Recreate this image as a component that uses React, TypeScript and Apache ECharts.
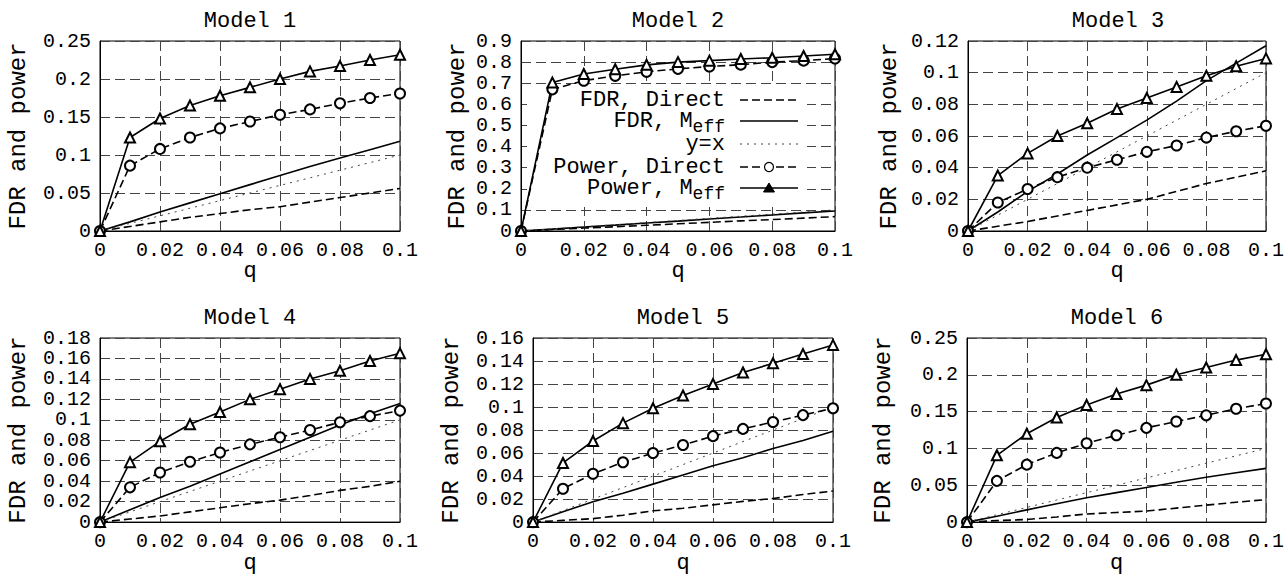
import React, { useEffect, useRef } from 'react';
import * as echarts from 'echarts';

const FONT = "'Liberation Mono', 'DejaVu Sans Mono', 'Courier New', monospace";

const qValues = [0, 0.01, 0.02, 0.03, 0.04, 0.05, 0.06, 0.07, 0.08, 0.09, 0.1];
const yEqualsX = [0, 0.01, 0.02, 0.03, 0.04, 0.05, 0.06, 0.07, 0.08, 0.09, 0.1];

const modelTitles = ['Model 1', 'Model 2', 'Model 3', 'Model 4', 'Model 5', 'Model 6'];
const yMaxes = [0.25, 0.9, 0.12, 0.18, 0.16, 0.25];
const yIntervals = [0.05, 0.1, 0.02, 0.02, 0.02, 0.05];
const seriesNames = ['FDR, Direct', 'FDR, Meff', 'y=x', 'Power, Direct', 'Power, Meff'];
// legend labels: main text and subscript
const legendMain = ['FDR, Direct', 'FDR, M', 'y=x', 'Power, Direct', 'Power, M'];
const legendSub = ['', 'eff', '', '', 'eff'];

const fdrDirect = [
  [0, 0.006, 0.012, 0.018, 0.023, 0.028, 0.032, 0.038, 0.044, 0.05, 0.056],
  [0, 0.007, 0.014, 0.02, 0.027, 0.034, 0.041, 0.048, 0.054, 0.061, 0.068],
  [0, 0.003, 0.006, 0.0095, 0.013, 0.0165, 0.02, 0.025, 0.03, 0.034, 0.038],
  [0, 0.003, 0.006, 0.01, 0.014, 0.018, 0.0215, 0.026, 0.031, 0.035, 0.04],
  [0, 0.0015, 0.003, 0.006, 0.0098, 0.012, 0.015, 0.018, 0.0205, 0.024, 0.027],
  [0, 0.002, 0.0035, 0.007, 0.011, 0.013, 0.015, 0.019, 0.023, 0.027, 0.0305],
];
const fdrMeff = [
  [0, 0.012, 0.025, 0.037, 0.049, 0.061, 0.073, 0.085, 0.096, 0.107, 0.118],
  [0, 0.009, 0.019, 0.028, 0.038, 0.047, 0.057, 0.066, 0.076, 0.086, 0.095],
  [0, 0.012, 0.025, 0.036, 0.048, 0.059, 0.07, 0.082, 0.095, 0.106, 0.117],
  [0, 0.012, 0.024, 0.035, 0.047, 0.059, 0.071, 0.083, 0.095, 0.106, 0.116],
  [0, 0.009, 0.0177, 0.025, 0.033, 0.041, 0.049, 0.056, 0.064, 0.071, 0.079],
  [0, 0.008, 0.0166, 0.025, 0.033, 0.04, 0.047, 0.054, 0.061, 0.067, 0.073],
];
const powerDirect = [
  [0, 0.086, 0.108, 0.123, 0.135, 0.144, 0.153, 0.16, 0.168, 0.175, 0.181],
  [0, 0.671, 0.712, 0.735, 0.754, 0.768, 0.779, 0.788, 0.8, 0.807, 0.817],
  [0, 0.018, 0.0265, 0.034, 0.04, 0.045, 0.05, 0.054, 0.059, 0.063, 0.0665],
  [0, 0.034, 0.0485, 0.059, 0.068, 0.076, 0.083, 0.09, 0.0976, 0.1036, 0.109],
  [0, 0.029, 0.042, 0.052, 0.06, 0.067, 0.0747, 0.081, 0.087, 0.093, 0.099],
  [0, 0.056, 0.078, 0.094, 0.107, 0.118, 0.128, 0.1366, 0.145, 0.154, 0.161],
];
const powerMeff = [
  [0, 0.123, 0.148, 0.165, 0.178, 0.189, 0.2, 0.21, 0.217, 0.225, 0.232],
  [0, 0.703, 0.744, 0.766, 0.787, 0.8, 0.807, 0.815, 0.821, 0.829, 0.837],
  [0, 0.035, 0.049, 0.06, 0.068, 0.077, 0.084, 0.091, 0.098, 0.104, 0.109],
  [0, 0.0586, 0.079, 0.0957, 0.1077, 0.12, 0.13, 0.14, 0.148, 0.1575, 0.165],
  [0, 0.0514, 0.0705, 0.086, 0.099, 0.11, 0.12, 0.13, 0.138, 0.146, 0.154],
  [0, 0.0907, 0.12, 0.142, 0.159, 0.174, 0.186, 0.2, 0.21, 0.22, 0.228],
];

// layout (pixels)
const panels = [
  { left: 100, top: 41, width: 300, height: 190, nameGap: 70 },
  { left: 521, top: 41, width: 314, height: 190, nameGap: 52 },
  { left: 968, top: 41, width: 300, height: 190, nameGap: 67 },
  { left: 100, top: 338, width: 300, height: 190, nameGap: 70 },
  { left: 533, top: 338, width: 300, height: 190, nameGap: 70 },
  { left: 967, top: 338, width: 300, height: 190, nameGap: 72 },
];
const legendRowsY = [100, 121, 144, 167, 188];
const LEG_TEXT_RIGHT = 725;
const LEG_LINE_X1 = 740;
const LEG_LINE_X2 = 798;
const SUB_CHAR_W = 10.8; // 18px Liberation Mono advance

const fmt = (v: number) => (v === 0 ? '0' : String(parseFloat(v.toFixed(4))));

const DASH = [8, 4];
const DOT = [2, 5];
const lineStyles: any[] = [
  { lineStyle: { type: DASH, width: 1.6, color: '#000' }, symbol: 'none' },
  { lineStyle: { type: 'solid', width: 1.6, color: '#000' }, symbol: 'none' },
  { lineStyle: { type: DOT, width: 1, color: '#444' }, symbol: 'none' },
  { lineStyle: { type: DASH, width: 1.6, color: '#000' }, symbol: 'emptyCircle', symbolSize: 10 },
  { lineStyle: { type: 'solid', width: 1.6, color: '#000' }, symbol: 'emptyTriangle', symbolSize: 10 },
];

function buildLegend(): any[] {
  const els: any[] = [];
  const p2 = panels[1];
  // opaque key box (hides grid lines behind the key, below the curves)
  els.push({
    type: 'rect',
    silent: true,
    z: 1,
    shape: { x: p2.left + 6, y: 86, width: 280, height: 121 },
    style: { fill: '#fff' },
  });
  legendMain.forEach((txt, i) => {
    const y = legendRowsY[i];
    const sub = legendSub[i];
    const mainRight = LEG_TEXT_RIGHT - sub.length * SUB_CHAR_W;
    els.push({
      type: 'text',
      silent: true,
      z: 5,
      style: {
        text: txt,
        x: mainRight,
        y,
        align: 'right',
        verticalAlign: 'middle',
        fill: '#000',
        font: `22px ${FONT}`,
        lineHeight: 19,
      },
    });
    if (sub) {
      els.push({
        type: 'text',
        silent: true,
        z: 5,
        style: {
          text: sub,
          x: mainRight,
          y: y + 6,
          align: 'left',
          verticalAlign: 'middle',
          fill: '#000',
          font: `18px ${FONT}`,
          lineHeight: 13,
        },
      });
    }
    const ls = lineStyles[i].lineStyle;
    els.push({
      type: 'line',
      silent: true,
      z: 5,
      shape: { x1: LEG_LINE_X1, y1: y, x2: LEG_LINE_X2, y2: y },
      style: {
        stroke: ls.color,
        lineWidth: ls.width,
        lineDash: Array.isArray(ls.type) ? ls.type : null,
      },
    });
    const cx = (LEG_LINE_X1 + LEG_LINE_X2) / 2;
    if (lineStyles[i].symbol === 'emptyCircle') {
      els.push({
        type: 'circle',
        silent: true,
        z: 6,
        shape: { cx, cy: y, r: 4.5 },
        style: { fill: '#fff', stroke: '#000', lineWidth: 1.2 },
      });
    } else if (lineStyles[i].symbol === 'emptyTriangle') {
      els.push({
        type: 'polygon',
        silent: true,
        z: 6,
        shape: { points: [[cx, y - 5], [cx + 5.5, y + 4], [cx - 5.5, y + 4]] },
        style: { fill: '#000', stroke: '#000', lineWidth: 1 },
      });
    }
  });
  return els;
}

export default function App() {
  const ref = useRef<HTMLDivElement>(null);
  useEffect(() => {
    if (!ref.current) return;
    const chart = echarts.init(ref.current, undefined, { renderer: 'svg' });
    const seriesData = [fdrDirect, fdrMeff, null, powerDirect, powerMeff];
    const series: any[] = [];
    panels.forEach((_, pi) => {
      seriesNames.forEach((name, si) => {
        const vals = si === 2 ? yEqualsX : (seriesData[si] as number[][])[pi];
        series.push({
          type: 'line',
          name,
          xAxisIndex: pi,
          yAxisIndex: pi,
          data: qValues.map((q, i) => [q, vals[i]]),
          ...lineStyles[si],
          showSymbol: lineStyles[si].symbol !== 'none',
          itemStyle: { color: '#000', borderColor: '#000', borderWidth: 1.2 },
          emphasis: { disabled: true },
          z: 3,
        });
      });
    });
    const option: any = {
      animation: false,
      backgroundColor: '#fff',
      title: panels.map((p, i) => ({
        text: modelTitles[i],
        left: p.left + p.width / 2,
        top: p.top - 31,
        textAlign: 'center',
        padding: 0,
        textStyle: { fontFamily: FONT, fontSize: 22, fontWeight: 'normal', color: '#000' },
      })),
      grid: panels.map((p) => ({
        left: p.left,
        top: p.top,
        width: p.width,
        height: p.height,
        show: true,
        borderColor: '#000',
        borderWidth: 1,
        backgroundColor: 'transparent',
      })),
      graphic: buildLegend(),
      xAxis: panels.map((p, i) => ({
        type: 'value',
        gridIndex: i,
        min: 0,
        max: 0.1,
        interval: 0.02,
        name: 'q',
        nameLocation: 'middle',
        nameGap: 14,
        nameTextStyle: { fontFamily: FONT, fontSize: 22, color: '#000', verticalAlign: 'top' },
        axisLine: { show: true, lineStyle: { color: '#000', width: 1 } },
        axisTick: { show: false },
        axisLabel: { fontFamily: FONT, fontSize: 20, color: '#000', margin: 9, formatter: fmt },
        splitLine: { show: true, lineStyle: { color: '#444', width: 1, type: [10, 5] } },
      })),
      yAxis: panels.map((p, i) => ({
        type: 'value',
        gridIndex: i,
        min: 0,
        max: yMaxes[i],
        interval: yIntervals[i],
        name: 'FDR and power',
        nameLocation: 'middle',
        nameRotate: 90,
        nameGap: p.nameGap,
        nameTextStyle: { fontFamily: FONT, fontSize: 24, color: '#000' },
        axisLine: { show: true, lineStyle: { color: '#000', width: 1 } },
        axisTick: { show: false },
        axisLabel: { fontFamily: FONT, fontSize: 20, color: '#000', margin: 9, formatter: fmt },
        splitLine: { show: true, lineStyle: { color: '#444', width: 1, type: [10, 5] } },
      })),
      series,
    };
    chart.setOption(option);
    return () => chart.dispose();
  }, []);
  return (
    <div
      ref={ref}
      style={{ position: 'absolute', left: 0, top: 0, width: 1287, height: 575, background: '#fff' }}
    />
  );
}
